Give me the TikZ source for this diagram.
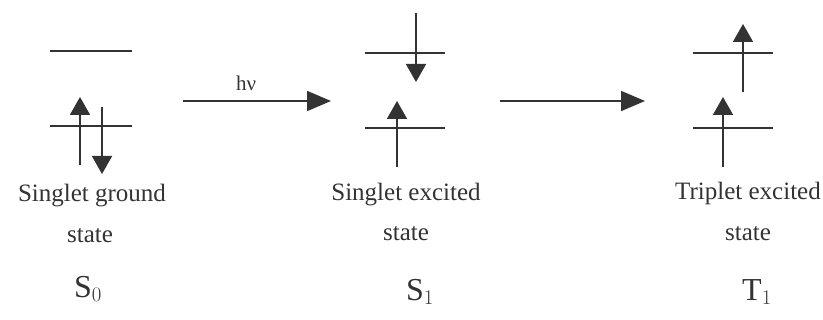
\documentclass[tikz,border=0pt]{standalone}
\usepackage{fontspec}
\setmainfont{Liberation Serif}
\usetikzlibrary{arrows.meta}
\definecolor{ink}{HTML}{333333}
\begin{document}
\begin{tikzpicture}[x=1pt,y=-1pt,
  level/.style={draw=ink,line width=1.8pt},
  spin/.style={draw=ink,line width=1.8pt,-{Triangle[length=18pt,width=20pt]}},
  trans/.style={draw=ink,line width=1.8pt,-{Triangle[length=24pt,width=20pt]}},
  lbl/.style={text=ink,font=\fontsize{25}{28}\selectfont,align=center,inner sep=0pt},
  sym/.style={text=ink,font=\fontsize{32}{34}\selectfont,inner sep=0pt}]
\useasboundingbox (0,0) rectangle (823,320);
\fill[white] (0,0) rectangle (823,320);
% S0
\draw[level] (50,51) -- (132,51);
\draw[level] (50,126) -- (132,126);
\coordinate (a1s) at (80,165); \coordinate (a1e) at (80,97);
\draw[spin] (a1s) -- (a1e);
\coordinate (a2s) at (102,107); \coordinate (a2e) at (102,174);
\draw[spin] (a2s) -- (a2e);
\node[lbl] (g1) at (92,196) {Singlet ground};
\node[lbl] (g2) at (90,236) {state};
\node[sym] (s0) at (88,289) {S$_0$};
% transition 1
\coordinate (t1s) at (183,101); \coordinate (t1e) at (331,101);
\draw[trans] (t1s) -- (t1e);
\node[lbl,font=\fontsize{21}{24}\selectfont] (hv) at (246,83) {hν};
% S1
\draw[level] (365,53) -- (445,53);
\draw[level] (365,128) -- (445,128);
\coordinate (b1s) at (416,13); \coordinate (b1e) at (416,82);
\draw[spin] (b1s) -- (b1e);
\coordinate (b2s) at (397,167); \coordinate (b2e) at (397,101);
\draw[spin] (b2s) -- (b2e);
\node[lbl] (e1) at (406,195) {Singlet excited};
\node[lbl] (e2) at (406,234) {state};
\node[sym] (s1) at (420,292) {S$_1$};
% transition 2
\coordinate (t2s) at (500,101); \coordinate (t2e) at (645,101);
\draw[trans] (t2s) -- (t2e);
% T1
\draw[level] (693,53) -- (773,53);
\draw[level] (693,128) -- (773,128);
\coordinate (c1s) at (743,92); \coordinate (c1e) at (743,24);
\draw[spin] (c1s) -- (c1e);
\coordinate (c2s) at (723,167); \coordinate (c2e) at (723,97);
\draw[spin] (c2s) -- (c2e);
\node[lbl] (f1) at (748,193) {Triplet excited};
\node[lbl] (f2) at (748,234) {state};
\node[sym] (t1) at (757,292) {T$_1$};
\end{tikzpicture}
\end{document}
